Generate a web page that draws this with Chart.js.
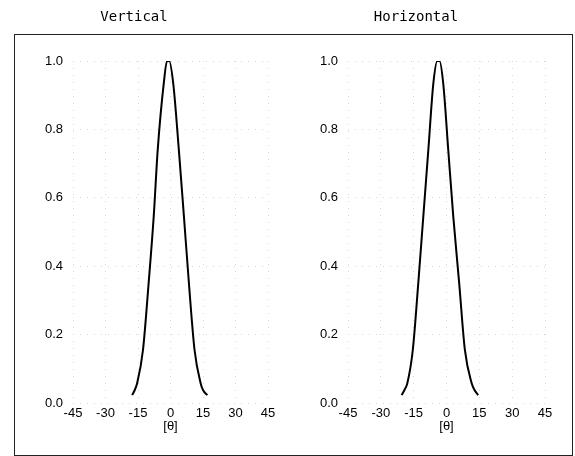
<!DOCTYPE html>
<html><head><meta charset="utf-8">
<script src="https://cdn.jsdelivr.net/npm/chart.js@4/dist/chart.umd.min.js"></script>
<style>
html,body{margin:0;padding:0;background:#fff;}
#wrap{position:relative;width:575px;height:456px;overflow:hidden;background:#fff;}
#frame{position:absolute;left:14px;top:34px;width:557px;height:420px;border:1px solid #222;}
canvas{position:absolute;top:0;}
#c1{left:0;width:287px;height:456px;}
#c2{left:287px;width:288px;height:456px;}
</style></head><body>
<div id="wrap"><div id="frame"></div>
<canvas id="c1" width="287" height="456"></canvas>
<canvas id="c2" width="288" height="456"></canvas></div>
<script>
// ---- data ----
const titles = ['Vertical', 'Horizontal'];
const xLabel = '[\u03b8]';
const xTicks = [-45, -30, -15, 0, 15, 30, 45];
const yTicks = [0, 0.2, 0.4, 0.6, 0.8, 1.0];
const vertAngles = [-17.7, -16.5, -15.4, -12.7, -10.1, -7.75, -5.9, -3.1, -1.6, -0.6, 1.25, 3.85, 6.2, 8.5, 11.1, 13.9, 15.0, 17.0];
const vertValues = [0.023, 0.038, 0.058, 0.155, 0.35, 0.545, 0.74, 0.935, 1.0, 1.0, 0.935, 0.74, 0.545, 0.35, 0.155, 0.058, 0.038, 0.023];
const horAngles  = [-20.5, -19.2, -17.9, -15.4, -12.9, -10.6, -8.3, -6.0, -4.2, -3.2, -1.5, 0.8, 3.1, 5.8, 8.4, 11.5, 12.8, 14.5];
const horValues  = [0.023, 0.038, 0.058, 0.155, 0.35, 0.545, 0.74, 0.935, 1.0, 1.0, 0.935, 0.74, 0.545, 0.35, 0.155, 0.058, 0.038, 0.023];

function makeChart(id, title, angles, values, yWidth, padRight) {
  const gridOpts = {color: '#d8d8d8', lineWidth: 1, drawTicks: false};
  const borderOpts = {display: false, dash: [1, 6]};
  const tickFont = {family: 'Liberation Sans', size: 13};
  return new Chart(document.getElementById(id), {
    type: 'line',
    data: {datasets: [{
      data: angles.map((a, i) => ({x: a, y: values[i]})),
      borderColor: '#000', borderWidth: 2, pointRadius: 0,
      cubicInterpolationMode: 'monotone', fill: false
    }]},
    options: {
      responsive: false, animation: false, devicePixelRatio: 1,
      layout: {padding: {left: 0, right: padRight, top: 0, bottom: 0}},
      plugins: {
        legend: {display: false}, tooltip: {enabled: false},
        title: {display: true, text: title, color: '#000',
          font: {family: 'DejaVu Sans Mono', size: 14, weight: 'normal'},
          padding: {top: 8.6, bottom: 35.6}}
      },
      scales: {
        x: {
          type: 'linear', min: -45, max: 45,
          afterBuildTicks: s => { s.ticks = xTicks.map(v => ({value: v})); },
          afterFit: s => { s.height = 53; },
          grid: gridOpts, border: borderOpts,
          ticks: {color: '#000', font: tickFont, padding: 3, maxRotation: 0, autoSkip: false},
          title: {display: true, text: xLabel, color: '#000', font: tickFont, padding: {top: 0, bottom: 22}}
        },
        y: {
          type: 'linear', min: 0, max: 1,
          afterBuildTicks: s => { s.ticks = yTicks.map(v => ({value: v})); },
          afterFit: s => { s.width = yWidth; },
          grid: gridOpts, border: borderOpts,
          ticks: {color: '#000', font: tickFont, padding: 10, callback: v => Number(v).toFixed(1)}
        }
      }
    }
  });
}
makeChart('c1', titles[0], vertAngles, vertValues, 73, 19);
makeChart('c2', titles[1], horAngles, horValues, 61, 30);
</script>
</body></html>
